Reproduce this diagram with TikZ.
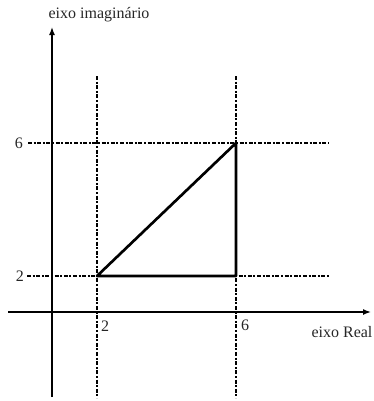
\documentclass[tikz,border=0pt]{standalone}
\usepackage{fontspec}
\setmainfont{Liberation Serif}
\usetikzlibrary{arrows.meta}
\begin{document}
\begin{tikzpicture}[x=0.75pt,y=-0.75pt,
  axis/.style={line width=1.1pt,-{Latex[length=6pt,width=4.5pt]}},
  guide/.style={line width=0.9pt,dash pattern=on 3pt off 1.2pt on 1.5pt off 1.2pt},
  tri/.style={line width=2pt,line join=round},
  lbl/.style={font=\fontsize{12}{14}\selectfont,inner sep=1pt,text=black!85}]
\useasboundingbox (0,0) rectangle (374,401);
% axes
\coordinate (ybot) at (52,397);
\coordinate (ytop) at (52,27);
\coordinate (xl) at (8,312);
\coordinate (xr) at (371,312);
\draw[axis] (ybot) -- (ytop);
\draw[axis] (xl) -- (xr);
% guides
\coordinate (v2t) at (97,76);
\coordinate (v2b) at (97,398);
\coordinate (v6t) at (236,76);
\coordinate (v6b) at (236,398);
\coordinate (h6l) at (28,143);
\coordinate (h6r) at (329,143);
\coordinate (h2l) at (27,276);
\coordinate (h2r) at (329,276);
\draw[guide] (v2t) -- (v2b);
\draw[guide] (v6t) -- (v6b);
\draw[guide] (h6l) -- (h6r);
\draw[guide] (h2l) -- (h2r);
% triangle
\coordinate (A) at (97,276);
\coordinate (B) at (236,143);
\coordinate (C) at (236,276);
\draw[tri] (A) -- (B) -- (C) -- cycle;
% labels
\node[lbl] (ly) at (99,15) {eixo imaginário};
\node[lbl] (lx) at (342,332) {eixo Real};
\node[lbl] (y6) at (19,143) {6};
\node[lbl] (y2) at (20,276) {2};
\node[lbl] (x2) at (105,326) {2};
\node[lbl] (x6) at (245,325) {6};
\end{tikzpicture}
\end{document}
